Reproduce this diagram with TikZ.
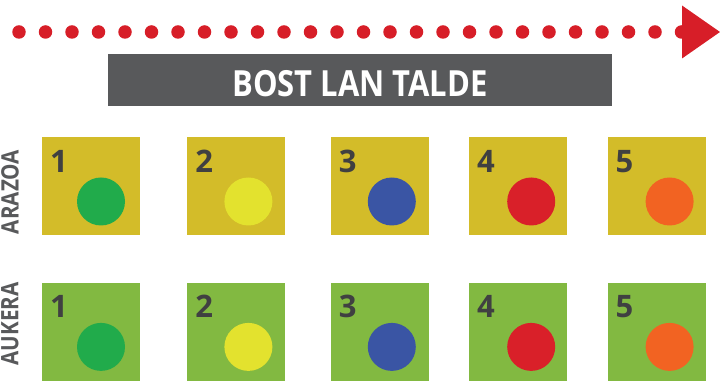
\documentclass[tikz,border=0pt]{standalone}
\usepackage{fontspec}
\setmainfont{Open Sans}
\newfontfamily\narrowfont[FakeStretch=0.86]{Open Sans}
\usepackage{tikz}
\usetikzlibrary{positioning, arrows.meta}

\definecolor{dotred}{HTML}{D71E28}
\definecolor{bargray}{HTML}{58595B}
\definecolor{numgray}{HTML}{404041}
\definecolor{tileyellow}{HTML}{D3BC29}
\definecolor{tilegreen}{HTML}{82B941}
\definecolor{discgreen}{HTML}{21AB4B}
\definecolor{discyellow}{HTML}{E3E22E}
\definecolor{discblue}{HTML}{3A55A4}
\definecolor{discred}{HTML}{D92029}
\definecolor{discorange}{HTML}{F26322}

\begin{document}
\begin{tikzpicture}[
        x=1pt, y=1pt,
        node distance=47pt,
        tile/.style={rectangle, minimum size=98pt, inner sep=0pt, fill=#1},
        disc/.style={circle, minimum size=48pt, inner sep=0pt, fill=#1},
        num/.style={font=\bfseries\fontsize{31pt}{31pt}\selectfont, text=numgray, inner sep=0pt, anchor=base west},
        rowlabel/.style={font=\narrowfont\bfseries\fontsize{24pt}{24pt}\selectfont, text=bargray, rotate=90, inner sep=0pt},
        banner/.style={rectangle, fill=bargray, minimum width=504pt, minimum height=52pt, inner sep=0pt, text=white, font=\narrowfont\bfseries\fontsize{36pt}{36pt}\selectfont, text height=34pt, text depth=0pt},
        flow/.style={dotred, line width=13.5pt, line cap=round, dash pattern=on 0pt off 26.5pt, -{Triangle[length=38pt, width=53pt, line width=0pt]}}
    ]
        \useasboundingbox (0,0) rectangle (720,382);

        % dotted arrow on top
        \coordinate (tail) at (19,350);
        \coordinate (tip) at (720,350);
        \draw[flow] (tail) -- (tip);

        \node[banner] (title) at (360,302) {BOST LAN TALDE};

        % ARAZOA row
        \node[tile=tileyellow] (a1) at (91,195.5) {};
        \node[tile=tileyellow, right=47pt of a1] (a2) {};
        \node[tile=tileyellow, right=45pt of a2] (a3) {};
        \node[tile=tileyellow, right=40pt of a3] (a4) {};
        \node[tile=tileyellow, right=40pt of a4] (a5) {};

        % AUKERA row
        \node[tile=tilegreen, below=of a1] (b1) {};
        \node[tile=tilegreen, below=of a2] (b2) {};
        \node[tile=tilegreen, below=of a3] (b3) {};
        \node[tile=tilegreen, below=of a4] (b4) {};
        \node[tile=tilegreen, below=of a5] (b5) {};

        \node[rowlabel] (arazoa) at (10,190) {ARAZOA};
        \node[rowlabel] (aukera) at (10,58) {AUKERA};

        \foreach \r in {a,b} {
            \node[disc=discgreen] (\r d1) at ([shift={(10pt,-15pt)}]\r1.center) {};
            \node[disc=discyellow] (\r d2) at ([shift={(12pt,-15pt)}]\r2.center) {};
            \node[disc=discblue] (\r d3) at ([shift={(12pt,-15pt)}]\r3.center) {};
            \node[disc=discred] (\r d4) at ([shift={(13pt,-15pt)}]\r4.center) {};
            \node[disc=discorange] (\r d5) at ([shift={(13pt,-15pt)}]\r5.center) {};
            \foreach \i in {1,...,5}
                \node[num] (\r n\i) at ([shift={(8pt,-35pt)}]\r\i.north west) {\i};
        }
    \end{tikzpicture}
\end{document}
